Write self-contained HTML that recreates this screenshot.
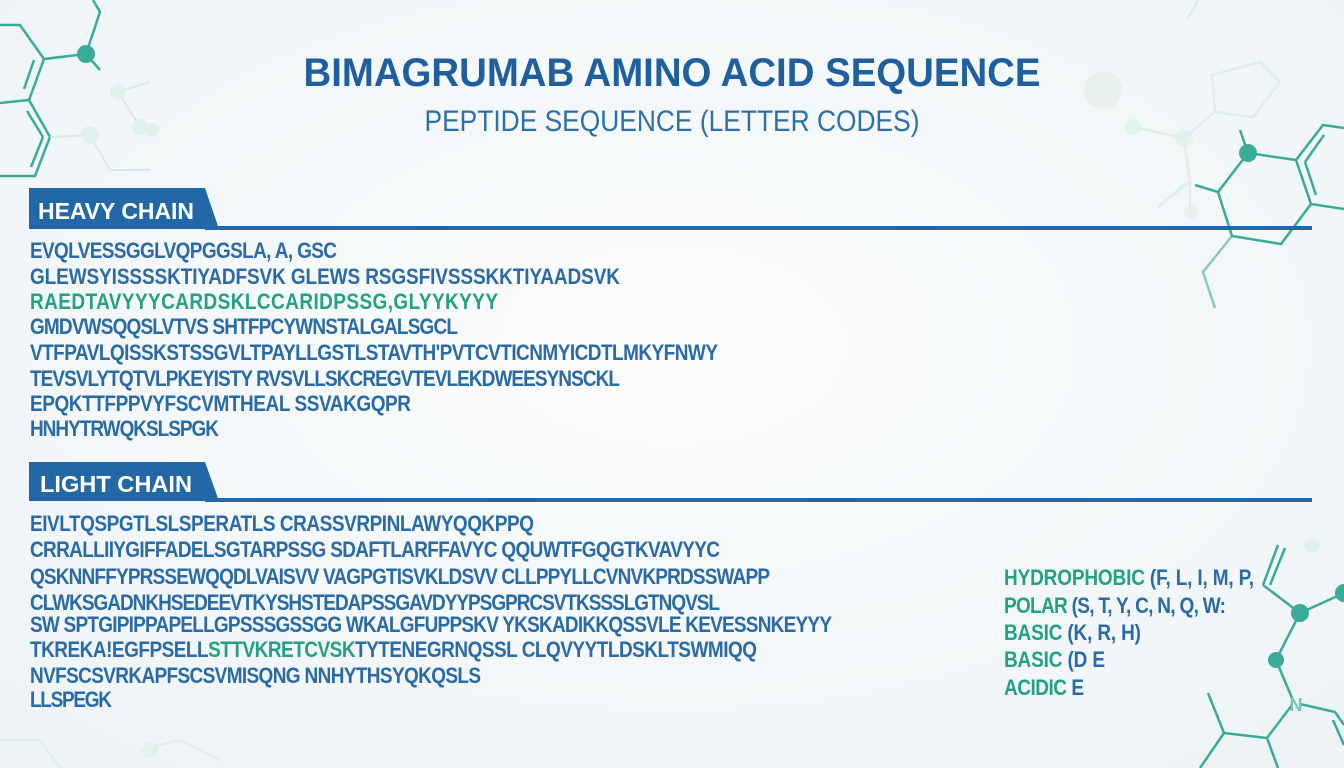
<!DOCTYPE html>
<html><head><meta charset="utf-8"><style>
html,body{margin:0;padding:0;width:1344px;height:768px;overflow:hidden;background:#f4f8fa}
svg{display:block}
text{font-family:"Liberation Sans",sans-serif}
</style></head><body>
<svg width="1344" height="768" viewBox="0 0 1344 768" xmlns="http://www.w3.org/2000/svg">
<defs><radialGradient id="bg" cx="50%" cy="45%" r="70%"><stop offset="0" stop-color="#fbfcfd"/><stop offset="1" stop-color="#eef4f6"/></radialGradient></defs>
<rect width="1344" height="768" fill="url(#bg)"/>
<g stroke="#3aab9a" stroke-width="2.5" fill="none">
<polyline points="0,25 20,25 44,59 86,54 100,70"/>
<polyline points="86,54 100,12 93,0"/>
<polyline points="44,59 29,100 0,103"/>
<line x1="34" y1="60" x2="24" y2="89"/>
<polyline points="29,100 50,137 35,176 0,176"/>
<line x1="27" y1="111" x2="43" y2="137"/>
<line x1="43" y1="137" x2="31" y2="167"/>
</g>
<circle cx="86" cy="54" r="9" fill="#3aab9a"/>
<g stroke="#cfe9e4" stroke-width="2" fill="none" opacity="0.8">
<polyline points="50,137 90,135 110,170 150,170"/><polyline points="118,92 150,82"/><polyline points="118,92 140,127"/>
</g>
<g fill="#dcefeb" opacity="0.8"><circle cx="118" cy="92" r="8"/><circle cx="90" cy="135" r="9"/><circle cx="140" cy="127" r="8"/><circle cx="152" cy="130" r="7"/></g>
<g fill="#e3f1ee" opacity="0.9"><circle cx="1103" cy="90" r="19"/><circle cx="1133" cy="127" r="8"/><circle cx="1184" cy="138" r="9"/><circle cx="1191" cy="212" r="7"/></g>
<g stroke="#dcefeb" stroke-width="2.5" fill="none"><polyline points="1133,127 1184,138 1215,112 1212,75 1260,62 1280,82 1253,117 1215,112"/><polyline points="1184,138 1190,182 1160,205"/><line x1="1185" y1="183" x2="1158" y2="208"/><line x1="1190" y1="182" x2="1190" y2="212"/><polyline points="1188,18 1198,0"/></g>
<g stroke="#3aab9a" stroke-width="2.5" fill="none">
<polyline points="1240,130 1248,153"/>
<polyline points="1195,185 1218,192 1248,153 1296,160 1323,125 1344,128"/>
<polyline points="1296,160 1311,204 1344,209"/>
<line x1="1305" y1="162" x2="1324" y2="135"/><line x1="1305" y1="162" x2="1316" y2="195"/>
<polyline points="1218,192 1232,236 1281,244 1311,204"/>
<polyline points="1232,236 1203,272 1215,308" opacity="0.6"/>
</g>
<circle cx="1248" cy="153" r="9" fill="#3aab9a"/>
<g stroke="#3aab9a" stroke-width="2.5" fill="none">
<polyline points="1263,585 1300,613 1344,593"/>
<polyline points="1263,585 1278,545"/><line x1="1270" y1="585" x2="1285" y2="548"/>
<polyline points="1300,613 1276,660 1292,698"/>
<polyline points="1300,704 1335,712 1344,725"/>
<line x1="1333" y1="720" x2="1344" y2="745"/>
<polyline points="1208,693 1224,733 1267,738 1292,705"/>
<polyline points="1224,733 1200,768"/><polyline points="1267,738 1278,768"/>
</g>
<g fill="#3aab9a"><circle cx="1300" cy="613" r="9"/><circle cx="1276" cy="660" r="8"/><circle cx="1344" cy="593" r="9"/></g>
<text x="1296" y="711" font-size="18" font-weight="bold" fill="#6fc6b4" text-anchor="middle">N</text>
<circle cx="1312" cy="545" r="8" fill="#e3f1ee"/>
<g stroke="#dcefeb" stroke-width="2" fill="none"><polyline points="0,740 40,740 60,768"/><polyline points="140,750 180,740 220,760"/></g>
<circle cx="150" cy="750" r="8" fill="#e3f1ee"/>
<text x="672" y="86" font-size="40" font-weight="bold" fill="#1f5f9e" text-anchor="middle" textLength="737" lengthAdjust="spacingAndGlyphs">BIMAGRUMAB AMINO ACID SEQUENCE</text>
<text x="672" y="131" font-size="30" fill="#2d6fa8" text-anchor="middle" textLength="495" lengthAdjust="spacingAndGlyphs">PEPTIDE SEQUENCE (LETTER CODES)</text>
<polygon points="29,188 205,188 219,229 29,229" fill="#2368a6"/>
<rect x="205" y="226" width="1107" height="4" fill="#2368a6"/>
<text x="38" y="219" font-size="23" font-weight="bold" fill="#ffffff" textLength="156" lengthAdjust="spacingAndGlyphs">HEAVY CHAIN</text>
<polygon points="29,462 205,462 219,501 29,501" fill="#2368a6"/>
<rect x="205" y="498" width="1107" height="4" fill="#2368a6"/>
<text x="40" y="492" font-size="23" font-weight="bold" fill="#ffffff" textLength="152" lengthAdjust="spacingAndGlyphs">LIGHT CHAIN</text>
<g font-size="19" font-weight="bold" fill="#2a6aa5" lengthAdjust="spacingAndGlyphs">
<text transform="translate(30,258) scale(1,1.15)" textLength="307">EVQLVESSGGLVQPGGSLA, A, GSC</text>
<text transform="translate(30,284) scale(1,1.15)" textLength="590">GLEWSYISSSSKTIYADFSVK GLEWS RSGSFIVSSSKKTIYAADSVK</text>
<text transform="translate(30,309) scale(1,1.15)" textLength="468" fill="#24a083">RAEDTAVYYYCARDSKLCCARIDPSSG,GLYYKYYY</text>
<text transform="translate(30,334) scale(1,1.15)" textLength="428">GMDVWSQQSLVTVS SHTFPCYWNSTALGALSGCL</text>
<text transform="translate(30,360) scale(1,1.15)" textLength="688">VTFPAVLQISSKSTSSGVLTPAYLLGSTLSTAVTH'PVTCVTICNMYICDTLMKYFNWY</text>
<text transform="translate(30,386) scale(1,1.15)" textLength="590">TEVSVLYTQTVLPKEYISTY RVSVLLSKCREGVTEVLEKDWEESYNSCKL</text>
<text transform="translate(30,411) scale(1,1.15)" textLength="381">EPQKTTFPPVYFSCVMTHEAL  SSVAKGQPR</text>
<text transform="translate(30,436) scale(1,1.15)" textLength="189">HNHYTRWQKSLSPGK</text>
<text transform="translate(30,531) scale(1,1.15)" textLength="504">EIVLTQSPGTLSLSPERATLS  CRASSVRPINLAWYQQKPPQ</text>
<text transform="translate(30,557) scale(1,1.15)" textLength="690">CRRALLIIYGIFFADELSGTARPSSG  SDAFTLARFFAVYC  QQUWTFGQGTKVAVYYC</text>
<text transform="translate(30,584) scale(1,1.15)" textLength="740">QSKNNFFYPRSSEWQQDLVAISVV VAGPGTISVKLDSVV CLLPPYLLCVNVKPRDSSWAPP</text>
<text transform="translate(30,610) scale(1,1.15)" textLength="690">CLWKSGADNKHSEDEEVTKYSHSTEDAPSSGAVDYYPSGPRCSVTKSSSLGTNQVSL</text>
<text transform="translate(30,632) scale(1,1.15)" textLength="802">SW SPTGIPIPPAPELLGPSSSGSSGG WKALGFUPPSKV YKSKADIKKQSSVLE KEVESSNKEYYY</text>
<text transform="translate(30,657) scale(1,1.15)" textLength="727">TKREKA!EGFPSELL<tspan fill="#24a083">STTVKRETCVSK</tspan>TYTENEGRNQSSL  CLQVYYTLDSKLTSWMIQQ</text>
<text transform="translate(30,683) scale(1,1.15)" textLength="451">NVFSCSVRKAPFSCSVMISQNG NNHYTHSYQKQSLS</text>
<text transform="translate(30,707) scale(1,1.15)" textLength="82">LLSPEGK</text>
</g>
<g font-size="19" font-weight="bold" lengthAdjust="spacingAndGlyphs">
<text transform="translate(1004,585) scale(1,1.15)" fill="#24a083" textLength="250">HYDROPHOBIC <tspan fill="#2a6aa5">(F, L, I, M, P,</tspan></text>
<text transform="translate(1004,613) scale(1,1.15)" fill="#24a083" textLength="222">POLAR <tspan fill="#2a6aa5">(S, T, Y, C, N, Q, W:</tspan></text>
<text transform="translate(1004,640) scale(1,1.15)" fill="#24a083" textLength="137">BASIC <tspan fill="#2a6aa5">(K, R, H)</tspan></text>
<text transform="translate(1004,667) scale(1,1.15)" fill="#24a083" textLength="101">BASIC <tspan fill="#2a6aa5">(D E</tspan></text>
<text transform="translate(1004,695) scale(1,1.15)" fill="#24a083" textLength="80">ACIDIC <tspan fill="#2a6aa5">E</tspan></text>
</g>
</svg>
</body></html>
